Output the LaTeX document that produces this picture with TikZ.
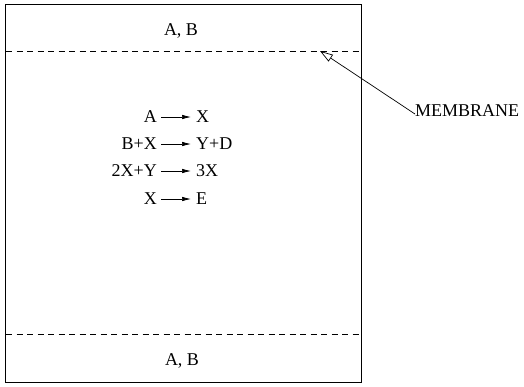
\documentclass[tikz,border=0pt]{standalone}
\usepackage{fontspec}
\setmainfont{Liberation Serif}
\usetikzlibrary{arrows.meta}
\begin{document}
\begin{tikzpicture}[x=1pt,y=-1pt,
  lbl/.style={font=\fontsize{18}{21}\selectfont, inner sep=0pt},
  rxn/.style={-{Latex[length=9pt,width=4.5pt]}, line width=0.7pt},
  memb/.style={dash pattern=on 6pt off 4.5pt, line width=0.8pt}]
\useasboundingbox (0,0) rectangle (524,386);
\node[draw, line width=1.2pt, minimum width=356pt, minimum height=378pt, anchor=north west, inner sep=0pt] (box) at (5,4) {};
\coordinate (tl) at (6,51);
\coordinate (tr) at (360,51);
\coordinate (bl) at (6,334);
\coordinate (br) at (360,334);
\draw[memb] (tl) -- (tr);
\draw[memb] (bl) -- (br);
\node[lbl] (abtop) at (181,31) {A, B};
\node[lbl] (abbot) at (182,361) {A, B};
\node[lbl, anchor=west] (mem) at (415,111) {MEMBRANE};
\coordinate (tip) at (320,51);
\draw[line width=0.7pt, -{Triangle[open,length=13pt,width=8pt]}] ([yshift=-3pt]mem.west) -- (tip);
% reactions
\node[lbl, anchor=east] (l1) at (157,117) {A};
\node[lbl, anchor=west] (r1) at (196,117) {X};
\node[lbl, anchor=east] (l2) at (157,144) {B+X};
\node[lbl, anchor=west] (r2) at (196,144) {Y+D};
\node[lbl, anchor=east] (l3) at (157,171) {2X+Y};
\node[lbl, anchor=west] (r3) at (196,171) {3X};
\node[lbl, anchor=east] (l4) at (157,199) {X};
\node[lbl, anchor=west] (r4) at (196,199) {E};
\draw[rxn] ([xshift=4pt]l1.east) -- ([xshift=-5pt]r1.west);
\draw[rxn] ([xshift=4pt]l2.east) -- ([xshift=-5pt]r2.west);
\draw[rxn] ([xshift=4pt]l3.east) -- ([xshift=-5pt]r3.west);
\draw[rxn] ([xshift=4pt]l4.east) -- ([xshift=-5pt]r4.west);
\end{tikzpicture}
\end{document}
